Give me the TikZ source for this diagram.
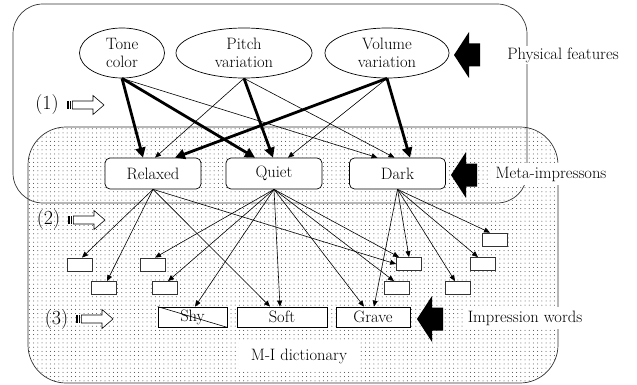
\documentclass[tikz,border=0pt]{standalone}
\usepackage{fontspec}
\usetikzlibrary{shapes.geometric,arrows.meta,patterns.meta}
\begin{document}
\begin{tikzpicture}[x=1pt,y=-1pt,
  every node/.style={font=\fontsize{16.5}{18}\selectfont},
  feat/.style={ellipse,draw,line width=0.7pt,fill=white,inner sep=0pt,align=center,minimum height=50pt},
  metabox/.style={rectangle,rounded corners=5pt,draw,line width=0.7pt,fill=white,minimum width=96pt,minimum height=31pt,inner sep=0pt},
  wordbox/.style={rectangle,draw,line width=0.8pt,fill=white,minimum height=20pt,inner sep=0pt},
  blankbox/.style={rectangle,draw=black!80,line width=0.8pt,fill=white,minimum width=25pt,minimum height=13pt,inner sep=0pt},
  boldarrow/.style={line width=2.8pt,-{Triangle[length=10pt,width=10pt]}},
  thinarrow/.style={line width=0.6pt,-{Triangle[length=6pt,width=5pt]}},
  tag/.style={fill=white,inner xsep=5pt,inner ysep=4pt},
  numtag/.style={font=\fontsize{20}{22}\selectfont,inner sep=1pt},
  blockarrow/.pic={\fill (0,0) -- (15,-23) -- (15,-11.5) -- (26,-11.5) -- (26,11.5) -- (15,11.5) -- (15,23) -- cycle;},
  stripearrow/.pic={
    \fill (0,-4) rectangle (2.2,4);
    \fill (3.2,-4) rectangle (4.4,4);
    \draw[line width=0.6pt,fill=white] (5.4,-4) -- (26,-4) -- (26,-9.5) -- (37,0) -- (26,9.5) -- (26,4) -- (5.4,4) -- cycle;}
]
\useasboundingbox (0,0) rectangle (637,385);

% regions
\draw[line width=0.7pt,draw=black!80,pattern={Dots[distance=4.2pt,radius=0.5pt]},pattern color=black!75,rounded corners=38pt] (28,127) rectangle (558,383);
\draw[line width=0.7pt,draw=black!80,rounded corners=30pt] (13,4) rectangle (527,203);

% physical features
\node[feat,minimum width=85pt] (tone) at (122,53) {Tone\\color};
\node[feat,minimum width=136pt] (pitch) at (244,53) {Pitch\\variation};
\node[feat,minimum width=124pt] (volume) at (387,53) {Volume\\variation};

% meta-impressions
\node[metabox] (relaxed) at (153,173.5) {Relaxed};
\node[metabox] (quiet) at (274,173.5) {Quiet};
\node[metabox] (dark) at (397.5,173.5) {Dark};

% impression words
\node[wordbox,minimum width=69pt] (shy) at (192.5,317) {Shy};
\node[wordbox,minimum width=90pt] (soft) at (282,317) {Soft};
\node[wordbox,minimum width=74pt] (grave) at (373,317) {Grave};
\draw[line width=0.6pt] (shy.north west) -- (shy.south east);

% blank word boxes
\node[blankbox] (wa) at (79.5,264.5) {};
\node[blankbox] (wb) at (104,288) {};
\node[blankbox] (wc) at (152.5,264.5) {};
\node[blankbox] (wd) at (164.5,288) {};
\node[blankbox] (we) at (409,264) {};
\node[blankbox] (wf) at (397,288) {};
\node[blankbox] (wg) at (482.5,264) {};
\node[blankbox] (wh) at (458,288) {};
\node[blankbox] (wi) at (494.5,239.5) {};

% feature -> meta
\draw[boldarrow] (tone.south) -- ([xshift=-10pt]relaxed.north);
\draw[boldarrow] (tone.south) -- ([xshift=-19pt]quiet.north);
\draw[thinarrow] (tone.south) -- ([xshift=-20pt]dark.north);
\draw[thinarrow] (pitch.south) -- ([xshift=2pt]relaxed.north);
\draw[boldarrow] (pitch.south) -- ([xshift=-1pt]quiet.north);
\draw[thinarrow] (pitch.south) -- ([xshift=-3pt]dark.north);
\draw[boldarrow] (volume.south) -- ([xshift=22pt]relaxed.north);
\draw[thinarrow] (volume.south) -- ([xshift=14pt]quiet.north);
\draw[boldarrow] (volume.south) -- ([xshift=12.5pt]dark.north);

% meta -> words
\draw[thinarrow] (relaxed.south) -- ([xshift=2.5pt]wa.north);
\draw[thinarrow] (relaxed.south) -- ([xshift=3pt]wb.north);
\draw[thinarrow] (relaxed.south) -- ([xshift=-12pt]soft.north);
\draw[thinarrow] (relaxed.south) -- (we.west);
\draw[thinarrow] (quiet.south) -- ([xshift=2.5pt]wc.north);
\draw[thinarrow] (quiet.south) -- ([xshift=3.5pt]wd.north);
\draw[thinarrow] (quiet.south) -- ([xshift=2.5pt]shy.north);
\draw[thinarrow] (quiet.south) -- ([xshift=-2pt]soft.north);
\draw[thinarrow] (quiet.south) -- ([xshift=-9pt]grave.north);
\draw[thinarrow] (quiet.south) -- ([xshift=-3pt]wf.north);
\draw[thinarrow] (quiet.south) -- ([xshift=-10pt]we.north);
\draw[thinarrow] (dark.south) -- ([xshift=1pt]grave.north);
\draw[thinarrow] (dark.south) -- (we.north);
\draw[thinarrow] (dark.south) -- ([xshift=-3pt]wh.north);
\draw[thinarrow] (dark.south) -- ([xshift=-4.5pt]wg.north);
\draw[thinarrow] (dark.south) -- ([xshift=-4.5pt]wi.north);

% black block arrows
\pic at (454,55) {blockarrow};
\pic at (451,175) {blockarrow};
\pic at (417,319) {blockarrow};

% striped arrows and numbers
\pic at (67,105) {stripearrow};
\pic at (68,220) {stripearrow};
\pic at (76,319) {stripearrow};
\node[numtag] (n1) at (47,105) {(1)};
\node[numtag] (n2) at (48.5,220) {(2)};
\node[numtag] (n3) at (56.5,320) {(3)};

% labels
\node[fill=white,inner sep=2pt] (physlbl) at (563,55) {Physical features};
\node[tag] (metalbl) at (551,174) {Meta-impressons};
\node[tag] (implbl) at (525,318) {Impression words};
\node[fill=white,inner xsep=12pt,inner ysep=7pt] (milbl) at (299,356) {M-I dictionary};
\end{tikzpicture}
\end{document}
